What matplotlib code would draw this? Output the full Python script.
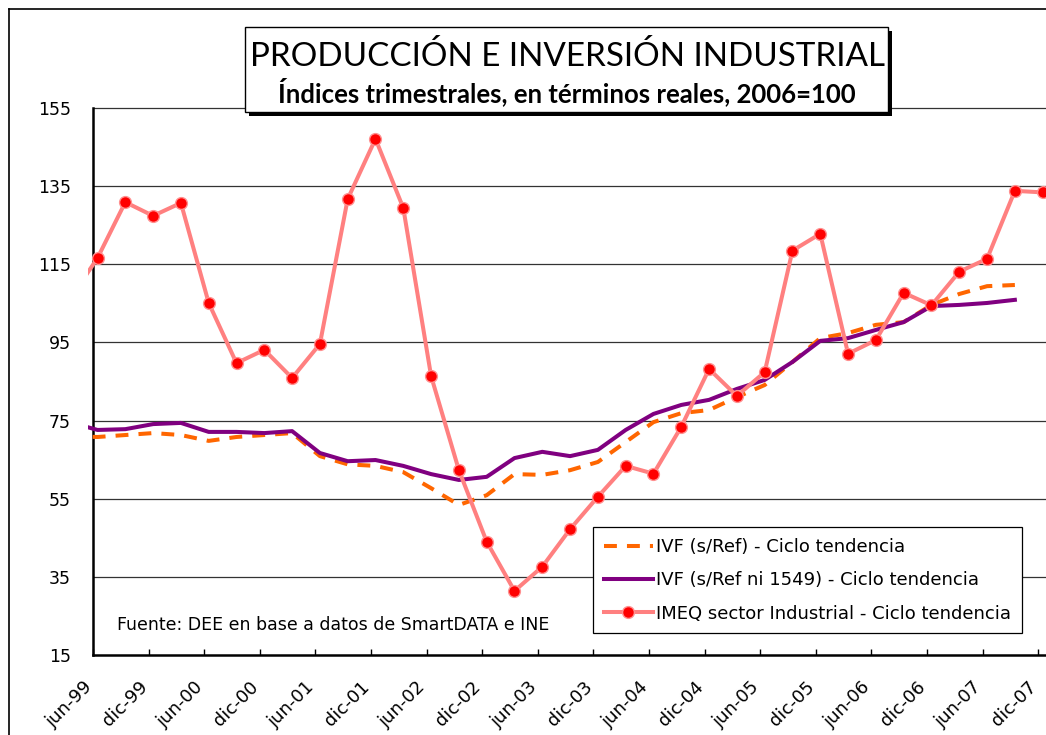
import numpy as np
import matplotlib
matplotlib.use('Agg')
import matplotlib.pyplot as plt
from matplotlib.patches import Rectangle
from matplotlib.lines import Line2D
from matplotlib.transforms import ScaledTranslation

plt.rcParams['font.family'] = ['DejaVu Sans']

# quarterly data, mar-99 .. dic-07 (first point falls just left of the plot)
quarter_idx = np.arange(-1, 35)

ivf_ref = [71.0, 70.8, 71.3, 71.8, 71.3, 69.8, 70.8, 71.3, 71.8, 65.9,
           63.8, 63.4, 61.8, 57.7, 53.4, 55.9, 61.3, 61.1, 62.3, 64.4,
           69.5, 74.6, 76.9, 77.7, 81.0, 84.1, 90.0, 96.1, 97.4, 99.5,
           100.2, 104.6, 107.4, 109.4, 109.7, np.nan]

ivf_ni1549 = [74.6, 72.6, 72.8, 74.1, 74.4, 72.1, 72.1, 71.8, 72.3, 66.7,
              64.6, 64.9, 63.4, 61.3, 59.8, 60.6, 65.4, 67.0, 65.9, 67.5,
              72.6, 76.7, 79.0, 80.3, 83.1, 85.4, 90.0, 95.4, 96.1, 98.2,
              100.2, 104.3, 104.6, 105.1, 105.9, np.nan]

imeq = [106.0, 116.6, 130.9, 127.4, 130.7, 105.1, 89.7, 93.1, 85.9, 94.6,
        131.7, 147.1, 129.4, 86.4, 62.3, 44.0, 31.4, 37.6, 47.2, 55.5,
        63.4, 61.4, 73.4, 88.2, 81.3, 87.4, 118.5, 122.8, 92.1, 95.6,
        107.7, 104.5, 113.1, 116.4, 133.8, 133.4]

tick_labels = ['jun-99', 'dic-99', 'jun-00', 'dic-00', 'jun-01', 'dic-01',
               'jun-02', 'dic-02', 'jun-03', 'dic-03', 'jun-04', 'dic-04',
               'jun-05', 'dic-05', 'jun-06', 'dic-06', 'jun-07', 'dic-07']
y_ticks = [15, 35, 55, 75, 95, 115, 135, 155]

legend_labels = ['IVF (s/Ref) - Ciclo tendencia',
                 'IVF (s/Ref ni 1549) - Ciclo tendencia',
                 'IMEQ sector Industrial - Ciclo tendencia']

W, H = 1046, 735
fig = plt.figure(figsize=(W / 100, H / 100), dpi=100)

def fx(px):
    return px / W

def fy(py):
    return 1 - py / H

# outer frame (only top/left visible in the crop)
fig.add_artist(Line2D([fx(9), fx(9)], [fy(9), 0], color='black', lw=1.2))
fig.add_artist(Line2D([fx(9), 1], [fy(9), fy(9)], color='black', lw=1.2))

# plot area 88..1046 px wide, 108..655 px tall
ax = fig.add_axes([fx(88), fy(655), fx(1046) - fx(88), fy(108) - fy(655)])
x0 = -0.16  # where the jun-99 tick / y axis sit
ax.set_xlim(-0.342, 34.12)
ax.set_ylim(15, 155)

ax.hlines(y_ticks[1:], x0, 34.12, colors='#333333', lw=0.9, zorder=1, clip_on=False)

ax.plot(quarter_idx, ivf_ref, color='#FF6600', lw=2.9, linestyle=(0, (3.2, 2.5)),
        label=legend_labels[0], zorder=3)
ax.plot(quarter_idx, ivf_ni1549, color='#800080', lw=2.9,
        label=legend_labels[1], zorder=4)
ax.plot(quarter_idx, imeq, color='#FF8080', lw=2.9, marker='o', markersize=8.5,
        markerfacecolor='#FF0000', markeredgecolor='#FF9090', markeredgewidth=1,
        label=legend_labels[2], zorder=5)

for s in ['top', 'right']:
    ax.spines[s].set_visible(False)
ax.spines['left'].set_position(('data', x0))
ax.spines['left'].set_linewidth(1.8)
ax.spines['bottom'].set_linewidth(1.8)
ax.spines['bottom'].set_bounds(x0, 34.12)

ax.set_yticks(y_ticks)
ax.set_yticklabels([str(v) for v in y_ticks])
ax.tick_params(axis='y', length=0, pad=16, labelsize=12.5)

ax.set_xticks(np.arange(0, 35, 2) + x0)
ax.set_xticklabels(tick_labels)
ax.tick_params(axis='x', direction='in', length=4.5, width=1.0, pad=21, labelsize=13)
for lab in ax.get_xticklabels():
    lab.set_rotation(45)
    lab.set_ha('right')
    lab.set_va('center')
    lab.set_rotation_mode('anchor')
    lab.set_transform(lab.get_transform() + ScaledTranslation(-0.04, 0, fig.dpi_scale_trans))

ax.text(fx(117), fy(625), 'Fuente: DEE en base a datos de SmartDATA e INE',
        transform=fig.transFigure, fontsize=12.5, va='center', ha='left')

leg = ax.legend(loc='upper left', bbox_to_anchor=(fx(593), fy(527)),
                bbox_transform=fig.transFigure, borderaxespad=0, fancybox=False,
                framealpha=1, edgecolor='black', fontsize=13, handlelength=2.7,
                handletextpad=0.2, borderpad=0.6, labelspacing=0.85)
leg.get_frame().set_linewidth(0.9)
leg.set_zorder(10)

# title box with shadow
bx0, by0, bx1, by1 = 245, 27, 888, 112
fig.add_artist(Rectangle((fx(bx0 + 4), fy(by1 + 4)), fx(bx1) - fx(bx0), fy(by0) - fy(by1),
                         transform=fig.transFigure, facecolor='black', edgecolor='none', zorder=20))
fig.add_artist(Rectangle((fx(bx0), fy(by1)), fx(bx1) - fx(bx0), fy(by0) - fy(by1),
                         transform=fig.transFigure, facecolor='white', edgecolor='black',
                         lw=1.0, zorder=21))

title_font = ['Lato', 'DejaVu Sans']
t1 = fig.text(fx(567), fy(57), 'PRODUCCIÓN E INVERSIÓN INDUSTRIAL', ha='center', va='center',
              fontsize=28, family=title_font, zorder=22)
t2 = fig.text(fx(567), fy(92), 'Índices trimestrales, en términos reales, 2006=100',
              ha='center', va='center', fontsize=15, fontweight='bold', family=title_font,
              zorder=22)

# squeeze the title lines to the reference widths
r = fig.canvas.get_renderer()
for t, target in [(t1, 634), (t2, 580)]:
    w = t.get_window_extent(r).width
    t.set_fontsize(t.get_fontsize() * target / w)

fig.savefig('out.png', dpi=100)
